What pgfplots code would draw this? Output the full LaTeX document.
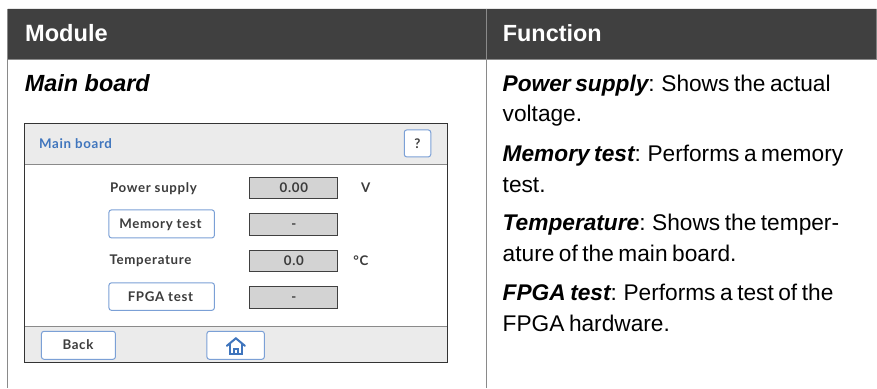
\documentclass[border=0pt]{standalone}
\usepackage{pgfplots}
\pgfplotsset{compat=1.18}
\usepackage{fontspec}
\setmainfont{Liberation Sans}
\newfontfamily\ui[LetterSpace=5]{Lato}
\definecolor{hdr}{HTML}{404040}
\definecolor{rule}{HTML}{8A8A8A}
\definecolor{panel}{HTML}{EBEBEB}
\definecolor{val}{HTML}{D3D3D3}
\definecolor{btn}{HTML}{7BA0D6}
\definecolor{blu}{HTML}{3F75BD}
\definecolor{txt}{HTML}{3C3C3C}
% rectangle through pgfplots: x1,y1,x2,y2,fill,draw,extra
\newcommand\rect[7]{%
  \pgfmathsetmacro\mx{(#1+#3)/2}%
  \addplot[fill=#5,draw=#6,#7] coordinates {(\mx,#2)(#3,#2)(#3,#4)(#1,#4)(#1,#2)(\mx,#2)};%
}
\newcommand\hl[4]{\addplot[draw=#4,line width=1pt] coordinates {(#1,#3)(#2,#3)};}
\newcommand\vl[4]{\addplot[draw=#4,line width=1pt] coordinates {(#1,#2)(#1,#3)};}
\newcommand\txt[3]{\node[anchor=base west,inner sep=0pt,outer sep=0pt] at (axis cs:#1,#2) {#3};}
\begin{document}
\begin{tikzpicture}
\begin{axis}[
  width=877pt,height=388pt,scale only axis,
  xmin=0,xmax=877,ymin=0,ymax=388,y dir=reverse,
  hide axis,clip=false]
% page background extent
\addplot[draw=none,fill=white] coordinates {(0,0)(877,0)(877,388)(0,388)(0,0)};
% header
\rect{8}{9}{877}{59}{hdr}{none}{}
\hl{8}{877}{59.5}{rule}
\vl{7.7}{9}{388}{rule}
\vl{486.3}{9}{388}{rule}
\node[anchor=base west,inner sep=0pt,text=white] at (axis cs:25,41.7) {\fontsize{23.6}{24}\selectfont\bfseries Module};
\node[anchor=base west,inner sep=0pt,text=white] at (axis cs:503,41.7) {\fontsize{23.4}{24}\selectfont\bfseries Function};
% left heading
\txt{25}{91.5}{\fontsize{23.4}{24}\selectfont\bfseries\itshape Main board}
% right column
\newcommand\rt{\fontsize{22.7}{24}\selectfont\spaceskip=0.2em\relax}
\txt{503}{92}{\rt{\bfseries\itshape Power supply}: Shows the actual}
\txt{503}{122}{\rt voltage.}
\txt{503}{162}{\rt{\bfseries\itshape Memory test}: Performs a memory}
\txt{503}{192.5}{\rt test.}
\txt{503}{231}{\rt{\bfseries\itshape Temperature}: Shows the temper-}
\txt{503}{262}{\rt ature of the main board.}
\txt{503}{301}{\rt{\bfseries\itshape FPGA test}: Performs a test of the}
\txt{503}{332}{\rt FPGA hardware.}
% panel
\rect{24.5}{123.5}{447.5}{362.5}{white}{black!80}{line width=0.9pt}
\rect{25}{124}{447}{165}{panel}{none}{}
\rect{25}{327}{447}{362}{panel}{none}{}
\hl{25}{447}{165}{rule}
\hl{25}{447}{326.7}{rule}
\rect{24.5}{123.5}{447.5}{362.5}{none}{black!80}{line width=0.9pt}
\newcommand\uf{\fontsize{13.3}{15}\selectfont\ui\bfseries}
\node[anchor=base west,inner sep=0pt,text=blu] at (axis cs:39,148.5) {\uf Main board};
% buttons
\rect{404.5}{130}{431}{157}{white}{btn}{line width=1pt,rounded corners=2.5pt}
\rect{109}{210}{214.5}{238}{white}{btn}{line width=1pt,rounded corners=2.5pt}
\rect{109}{283}{214.5}{310.5}{white}{btn}{line width=1pt,rounded corners=2.5pt}
\rect{41.5}{331.5}{115.5}{359.5}{white}{btn}{line width=1pt,rounded corners=2.5pt}
\rect{207}{331.5}{264.5}{359.5}{white}{btn}{line width=1pt,rounded corners=2.5pt}
% value boxes
\rect{249.5}{177.5}{337.5}{199}{val}{black!75}{line width=1pt}
\rect{249.5}{213.5}{337.5}{235.5}{val}{black!75}{line width=1pt}
\rect{249.5}{250.5}{337.5}{271.5}{val}{black!75}{line width=1pt}
\rect{249.5}{286.5}{337.5}{308.5}{val}{black!75}{line width=1pt}
% ui text
\node[anchor=base,inner sep=0pt,text=txt] at (axis cs:417.7,148.5) {\uf ?};
\node[anchor=base west,inner sep=0pt,text=txt] at (axis cs:110,192.5) {\uf Power supply};
\node[anchor=base,inner sep=0pt,text=txt] at (axis cs:160.5,229) {\uf Memory test};
\node[anchor=base west,inner sep=0pt,text=txt] at (axis cs:109.5,265) {\uf Temperature};
\node[anchor=base,inner sep=0pt,text=txt] at (axis cs:160.5,302) {\uf FPGA test};
\node[anchor=base,inner sep=0pt,text=txt] at (axis cs:78,350) {\uf Back};
\node[anchor=base,inner sep=0pt,text=txt] at (axis cs:294,193) {\uf 0.00};
\node[anchor=base,inner sep=0pt,text=txt] at (axis cs:294,229) {\uf -};
\node[anchor=base,inner sep=0pt,text=txt] at (axis cs:294,265.5) {\uf 0.0};
\node[anchor=base,inner sep=0pt,text=txt] at (axis cs:294,302) {\uf -};
\node[anchor=base,inner sep=0pt,text=txt] at (axis cs:366,193) {\uf V};
\node[anchor=base,inner sep=0pt,text=txt] at (axis cs:361,265.5) {\uf °C};
% home icon
\addplot[draw=blu,line width=2pt,line cap=round] coordinates {(227,346)(236,338.5)(245,346)};
\addplot[draw=blu,line width=2pt] coordinates {(230,344.5)(230,354)(242,354)(242,344.5)};
\addplot[draw=blu,line width=1.5pt] coordinates {(234,353.5)(234,349)(238,349)(238,353.5)};
\end{axis}
\end{tikzpicture}
\end{document}
